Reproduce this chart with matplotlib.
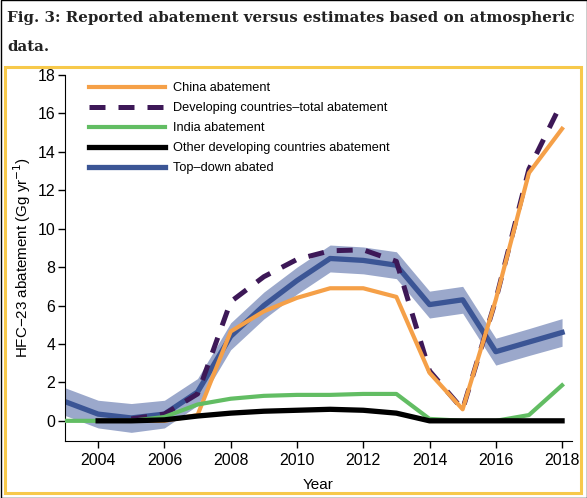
import matplotlib
matplotlib.use("Agg")
import matplotlib.pyplot as plt
from matplotlib.patches import Rectangle
import numpy as np

years = list(range(2003, 2019))
topdown = [1.0, 0.35, 0.15, 0.35, 1.5, 4.4, 6.0, 7.3, 8.45, 8.35, 8.1, 6.05, 6.3, 3.6, 4.1, 4.6]
topdown_err = [0.72, 0.72, 0.75, 0.72, 0.7, 0.7, 0.7, 0.7, 0.7, 0.7, 0.7, 0.7, 0.7, 0.7, 0.7, 0.72]

china_years = list(range(2004, 2019))
china = [0, 0, 0, 0.3, 4.65, 5.7, 6.4, 6.9, 6.9, 6.45, 2.5, 0.6, 6.3, 12.9, 15.2]

dev_years = list(range(2005, 2019))
developing = [0.1, 0.35, 1.4, 6.2, 7.5, 8.4, 8.85, 8.9, 8.3, 2.6, 0.6, 6.3, 13.1, 16.6]

india = [0, 0, 0, 0.2, 0.85, 1.15, 1.3, 1.35, 1.35, 1.4, 1.4, 0.1, 0, 0, 0.3, 1.85]

other_years = list(range(2004, 2019))
other = [0, 0, 0.05, 0.25, 0.4, 0.5, 0.55, 0.6, 0.55, 0.4, 0, 0, 0, 0, 0]

labels = ["China abatement", "Developing countries\u2013total abatement",
          "India abatement", "Other developing countries abatement", "Top\u2013down abated"]

plt.rcParams['font.family'] = ['Liberation Sans', 'DejaVu Sans']

fig = plt.figure(figsize=(5.87, 4.98), dpi=100)
ax = fig.add_axes([65/587, 57/498, 507/587, 366/498])

td = np.array(topdown)
err = np.array(topdown_err)
ax.fill_between(years, td - err, td + err, color='#9BA8CB', lw=0, zorder=1)
l_td, = ax.plot(years, topdown, color='#3B5595', lw=3.8, zorder=2)
l_dev, = ax.plot(dev_years, developing, color='#3D1857', lw=3.6, dashes=(3.2, 2.6), zorder=3)
l_ch, = ax.plot(china_years, china, color='#F5A048', lw=3.0, zorder=4)
l_in, = ax.plot(years, india, color='#62BD63', lw=3.0, zorder=5)
l_ot, = ax.plot(other_years, other, color='black', lw=3.8, zorder=6)

ax.set_xlim(2003, 2018.3)
ax.set_ylim(-1.05, 18)
ax.set_xticks(range(2004, 2019, 2))
ax.set_yticks(range(0, 19, 2))
for s in ['top', 'right']:
    ax.spines[s].set_visible(False)
ax.tick_params(direction='out', length=5, labelsize=11.4, width=1)
ax.tick_params(axis='y', pad=2)
ax.set_xlabel('Year', fontsize=11, labelpad=7)
ax.set_ylabel('HFC\u221223 abatement (Gg yr$^{-1}$)', fontsize=10.9, labelpad=3)

leg = ax.legend([l_ch, l_dev, l_in, l_ot, l_td], labels, loc='upper left',
                bbox_to_anchor=(0.035, 0.997), frameon=False, fontsize=9.2,
                handlelength=5.9, handletextpad=0.65, labelspacing=0.62, borderpad=0)

# title
tkw = dict(family='DejaVu Serif', weight='bold', fontsize=10.85, va='center', ha='left', color='#222222')
fig.text(7/587, 1 - 18/498, "Fig. 3: Reported abatement versus estimates based on atmospheric", **tkw)
fig.text(7/587, 1 - 47/498, "data.", **tkw)

# frames
fig.patches.append(Rectangle((5/587, 5/498), 576/587, 426/498, transform=fig.transFigure,
                             fill=False, edgecolor='#F7C94B', lw=2.2))
fig.patches.append(Rectangle((0.5/587, 0.5/498), 586/587, 497/498, transform=fig.transFigure,
                             fill=False, edgecolor='black', lw=1.0))

fig.savefig('out.png', dpi=100)
